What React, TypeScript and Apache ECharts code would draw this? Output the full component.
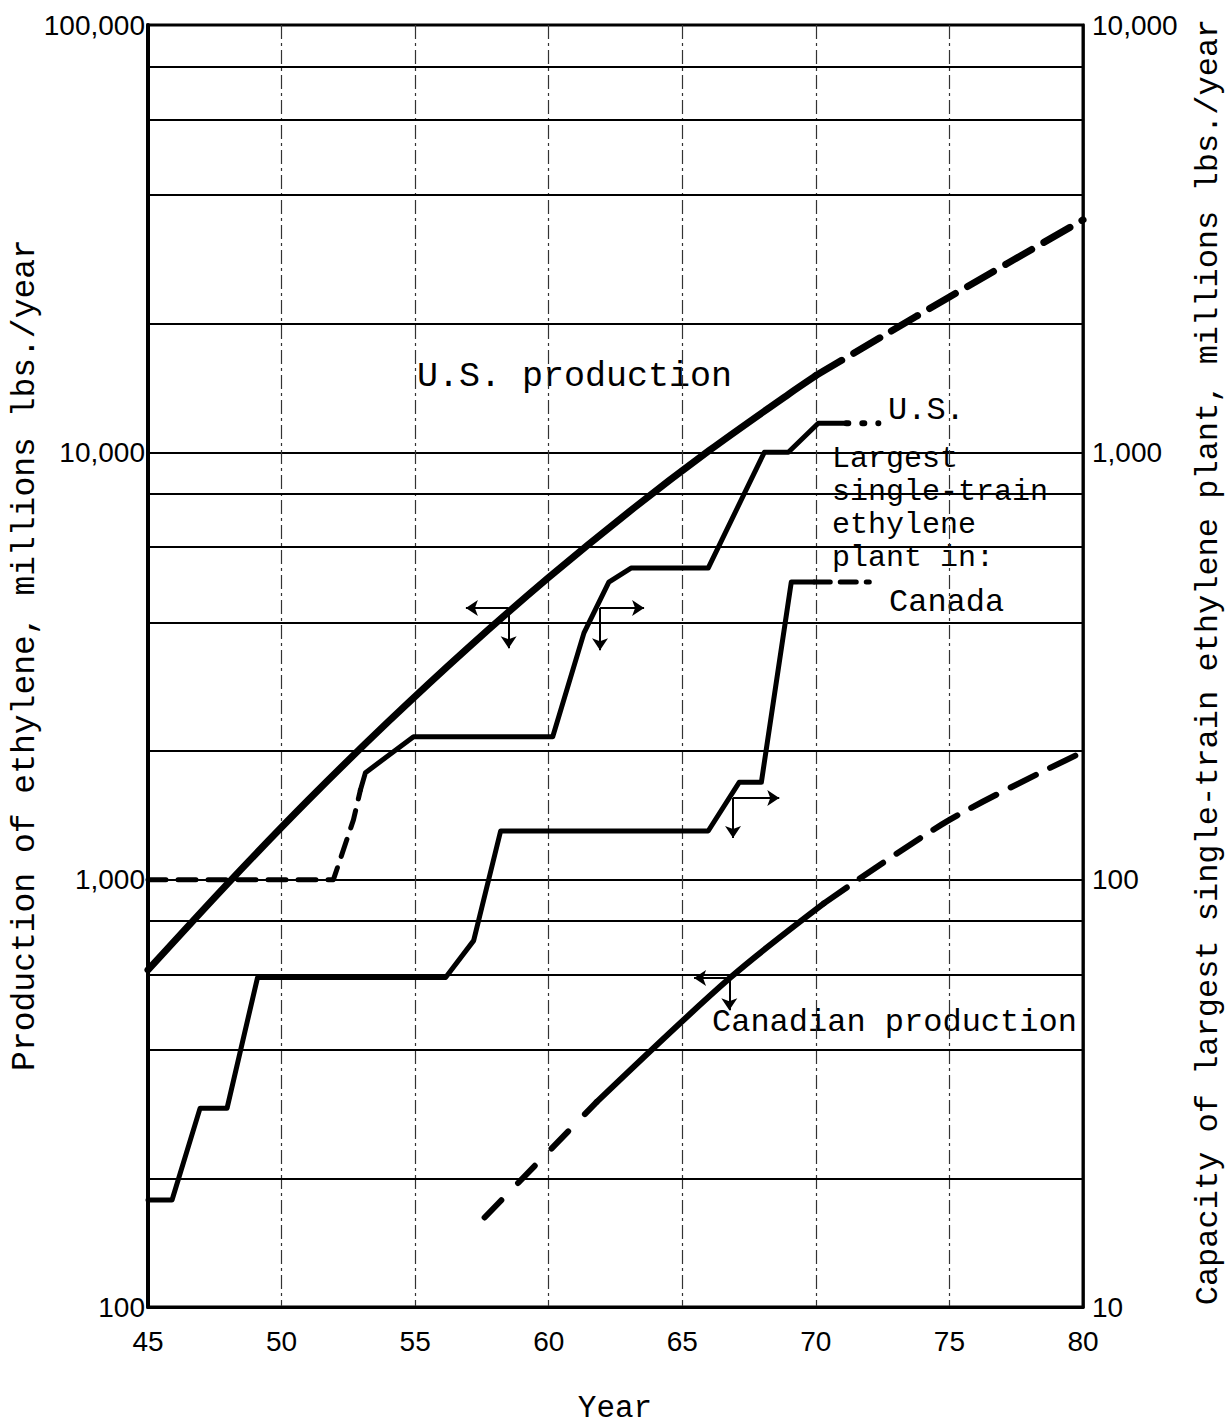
import React, { useEffect, useRef } from 'react';
import * as echarts from 'echarts';

// Axis ticks
const yearTicks = [45, 50, 55, 60, 65, 70, 75, 80];
const productionTicks = [100, 1000, 10000, 100000];
const capacityTicks = [10, 100, 1000, 10000];
// Intermediate horizontal grid lines (left-axis values)
const gridValues = [200, 400, 600, 800, 2000, 4000, 6000, 8000, 20000, 40000, 60000, 80000];

// U.S. production, millions lbs./year (left axis)
const usProdActual: [number, number][] = [
  [45, 615], [48, 982], [51, 1536], [54, 2344], [57, 3497], [60, 5096],
  [63, 7254], [66, 10090], [69, 13710], [70, 15120],
];
const usProdForecast: [number, number][] = [[70, 15120], [72.5, 18700], [75, 23100], [80, 35000]];

// Canadian production (left axis)
const canProdEarly: [number, number][] = [[57.6, 162], [61.8, 302]];
const canProdActual: [number, number][] = [[61.8, 302], [66.8, 590], [70.3, 880]];
const canProdForecast: [number, number][] = [[70.3, 880], [75, 1380], [80, 1990]];

// Largest single-train plant, U.S. (right axis)
const usPlantEarly: [number, number][] = [[45, 100], [51.94, 100], [52.69, 138], [52.95, 162]];
const usPlantActual: [number, number][] = [
  [52.95, 162], [53.14, 178], [54.94, 216], [60.15, 216], [61.32, 378], [62.25, 497],
  [63.08, 536], [65.97, 536], [68.07, 1000], [68.97, 1000], [70.09, 1170], [71.14, 1170],
];
const usPlantForecast: [number, number][] = [[71.14, 1170], [72.34, 1170]];

// Largest single-train plant, Canada (right axis)
const canPlantActual: [number, number][] = [
  [45, 17.8], [45.9, 17.8], [46.95, 29.2], [47.96, 29.2], [49.1, 59], [56.14, 59],
  [57.19, 72], [58.2, 130], [65.97, 130], [67.13, 169], [67.96, 169], [69.08, 497], [69.94, 497],
];
const canPlantForecast: [number, number][] = [[69.94, 497], [72.0, 497]];

// Reading arrows (year, left-axis value)
const arrowSegments: [number, number][][] = [
  [[58.5, 4320], [56.9, 4320]],
  [[58.5, 4320], [58.5, 3480]],
  [[61.92, 4320], [63.57, 4320]],
  [[61.92, 4320], [61.92, 3444]],
  [[66.9, 1552], [68.63, 1552]],
  [[66.9, 1552], [66.9, 1252]],
  [[66.76, 589], [65.44, 589]],
  [[66.76, 589], [66.76, 495]],
];

export default function App() {
  const ref = useRef<HTMLDivElement>(null);
  useEffect(() => {
    document.body.style.margin = '0';
    document.body.style.overflow = 'hidden';
    const chart = echarts.init(ref.current!, null, { renderer: 'svg' });
    const mono = '"Liberation Mono", "DejaVu Sans Mono", monospace';
    const sans = '"Liberation Sans", Arial, sans-serif';
    const fmt = (v: number) => Math.round(v).toLocaleString('en-US');

    const line = (name: string, data: [number, number][], yAxisIndex: number, width: number, type: any, smooth = 0) => ({
      type: 'line',
      name,
      data,
      yAxisIndex,
      symbol: 'none',
      smooth,
      silent: true,
      lineStyle: { color: '#000', width, type, cap: 'round', join: 'round' },
      z: 5,
    });

    const textEl = (text: string, x: number, y: number, size = 32, extra: any = {}) => ({
      type: 'text',
      x,
      y,
      ...extra,
      style: { text, font: `${size}px ${mono}`, fill: '#000', textAlign: 'left', textVerticalAlign: 'middle', ...(extra.style || {}) },
    });

    chart.setOption({
      animation: false,
      backgroundColor: '#fff',
      grid: { left: 148, right: 148, top: 25, bottom: 119, show: true, borderColor: '#000', borderWidth: 3, backgroundColor: 'transparent' },
      xAxis: {
        type: 'value',
        min: 45,
        max: 80,
        interval: 5,
        axisLine: { show: true, lineStyle: { color: '#000', width: 3 } },
        axisTick: { show: false },
        axisLabel: { color: '#000', fontFamily: sans, fontSize: 28, margin: 20, showMinLabel: true, showMaxLabel: true,
          formatter: (v: number) => (yearTicks.includes(v) ? String(v) : '') },
        splitLine: { show: true, lineStyle: { color: '#333', width: 1.2, type: [14, 4, 3, 4] } },
      },
      yAxis: [
        {
          type: 'log',
          logBase: 10,
          min: productionTicks[0],
          max: productionTicks[productionTicks.length - 1],
          position: 'left',
          axisLine: { show: true, lineStyle: { color: '#000', width: 4 } },
          axisTick: { show: false },
          axisLabel: { color: '#000', fontFamily: sans, fontSize: 28, margin: 3, showMinLabel: true, showMaxLabel: true, formatter: fmt },
          splitLine: { show: true, lineStyle: { color: '#000', width: 1.8 } },
        },
        {
          type: 'log',
          logBase: 10,
          min: capacityTicks[0],
          max: capacityTicks[capacityTicks.length - 1],
          position: 'right',
          axisLine: { show: true, lineStyle: { color: '#000', width: 2.5 } },
          axisTick: { show: false },
          axisLabel: { color: '#000', fontFamily: sans, fontSize: 28, margin: 9, showMinLabel: true, showMaxLabel: true, formatter: fmt },
          splitLine: { show: false },
        },
      ],
      series: [
        {
          type: 'line',
          data: [],
          yAxisIndex: 0,
          silent: true,
          markLine: {
            silent: true,
            symbol: 'none',
            label: { show: false },
            lineStyle: { color: '#000', width: 1.8, type: 'solid' },
            data: gridValues.map((v) => ({ yAxis: v })),
          },
        },
        line('US production', usProdActual, 0, 7, 'solid', 0.3),
        line('US production forecast', usProdForecast, 0, 7, [30, 14], 0.3),
        line('Canadian production early', canProdEarly, 0, 6, [24, 24]),
        line('Canadian production', canProdActual, 0, 6, 'solid', 0.3),
        line('Canadian production forecast', canProdForecast, 0, 6, [28, 16], 0.3),
        line('US plant early', usPlantEarly, 1, 5, [18, 12]),
        line('US plant', usPlantActual, 1, 5, 'solid'),
        line('US plant forecast', usPlantForecast, 1, 6, [2, 14]),
        line('Canada plant', canPlantActual, 1, 5, 'solid'),
        line('Canada plant forecast', canPlantForecast, 1, 5, [16, 10]),
        {
          type: 'lines',
          coordinateSystem: 'cartesian2d',
          xAxisIndex: 0,
          yAxisIndex: 0,
          silent: true,
          symbol: ['none', 'arrow'],
          symbolSize: 12,
          lineStyle: { color: '#000', width: 2, opacity: 1 },
          data: arrowSegments.map((c) => ({ coords: c })),
          z: 6,
        },
      ],
      graphic: [
        textEl('U.S. production', 417, 377, 35),
        textEl('U.S.', 888, 410),
        textEl('Largest\nsingle-train\nethylene\nplant in:', 832, 508, 30, { style: { lineHeight: 33 } }),
        textEl('Canada', 889, 602),
        textEl('Canadian production', 712, 1022),
        textEl('Year', 615, 1408, 31, { style: { textAlign: 'center' } }),
        textEl('Production of ethylene, millions lbs./year', 25, 655, 33, { rotation: Math.PI / 2, style: { textAlign: 'center' } }),
        textEl('Capacity of largest single-train ethylene plant, millions lbs./year', 1208, 662, 32, { rotation: Math.PI / 2, style: { textAlign: 'center' } }),
      ],
    });
    return () => chart.dispose();
  }, []);
  return <div ref={ref} style={{ width: 1231, height: 1426 }} />;
}
